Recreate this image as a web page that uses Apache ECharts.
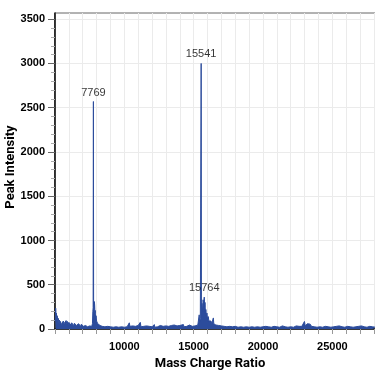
<!DOCTYPE html>
<html>
<head>
<meta charset="utf-8">
<script src="https://cdn.jsdelivr.net/npm/echarts@6/dist/echarts.min.js"></script>
<style>
  html, body { margin: 0; padding: 0; background: #fff; }
  #chart { width: 375px; height: 375px; }
</style>
</head>
<body>
<div id="chart"></div>
<script>
// [m/z, intensity] pairs
const lowMassNoise = [
  [5020, 90], [5050, 235], [5080, 140], [5100, 180], [5130, 110], [5160, 150], [5200, 95],
  [5240, 120], [5280, 70], [5320, 100], [5360, 60], [5400, 85], [5450, 50], [5500, 70],
  [5550, 45], [5600, 90], [5650, 60], [5700, 80], [5750, 55], [5800, 95], [5850, 60],
  [5900, 85], [5950, 50], [6000, 75], [6050, 55], [6100, 90], [6150, 45], [6200, 70],
  [6250, 50], [6300, 80], [6350, 40], [6400, 65], [6450, 45], [6500, 70], [6550, 40],
  [6600, 55], [6650, 35], [6700, 60], [6750, 40], [6800, 50], [6850, 30], [6900, 55],
  [6950, 35], [7000, 45], [7050, 30], [7100, 50], [7150, 35], [7200, 40], [7250, 30],
  [7300, 45], [7350, 25], [7400, 40], [7450, 30], [7500, 35], [7550, 25], [7600, 40],
  [7650, 30], [7700, 60]
];
const peak7769Cluster = [
  [7730, 200], [7750, 240], [7769, 2570], [7785, 260], [7800, 300], [7820, 230],
  [7840, 310], [7860, 270], [7880, 180], [7900, 210], [7930, 120], [7960, 150],
  [8000, 90], [8040, 110], [8080, 60], [8120, 75], [8160, 50], [8200, 60], [8250, 40]
];
const midNoise = [
  [8300, 45], [8400, 30], [8500, 50], [8600, 25], [8700, 40], [8800, 30], [8900, 45],
  [9000, 25], [9100, 35], [9200, 20], [9300, 40], [9400, 25], [9500, 30], [9600, 20],
  [9700, 35], [9800, 25], [9900, 30], [10000, 20], [10100, 30], [10200, 25], [10360, 70],
  [10400, 30], [10500, 25], [10600, 35], [10700, 20], [10800, 30], [10900, 25], [11000, 40],
  [11100, 20], [11150, 75], [11200, 25], [11300, 25], [11400, 30], [11500, 20], [11600, 35],
  [11700, 25], [11800, 30], [11900, 20], [12000, 25], [12160, 50], [12200, 20], [12300, 35],
  [12400, 25], [12500, 30], [12600, 40], [12700, 25], [12800, 30], [12900, 20], [13000, 35],
  [13100, 25], [13200, 30], [13300, 20], [13400, 40], [13500, 25], [13600, 45], [13700, 30],
  [13800, 35], [13900, 25], [14000, 40], [14100, 30], [14260, 50], [14300, 25], [14400, 40],
  [14500, 30], [14600, 35], [14700, 45], [14800, 35], [14900, 30], [15000, 45], [15100, 35],
  [15200, 50], [15300, 45]
];
const peak15541Cluster = [
  [15350, 60], [15400, 160], [15430, 80], [15480, 120], [15522, 125], [15541, 3000],
  [15560, 250], [15600, 290], [15640, 200], [15680, 330], [15720, 280], [15764, 360],
  [15790, 250], [15820, 300], [15850, 180], [15880, 220], [15920, 150], [15960, 180],
  [16000, 110], [16050, 140], [16100, 90], [16150, 110], [16200, 70], [16250, 90],
  [16300, 60], [16350, 75], [16420, 125], [16450, 60], [16500, 55], [16600, 45],
  [16700, 60], [16800, 40], [16900, 50]
];
const highNoise = [
  [17000, 35], [17100, 45], [17200, 30], [17300, 40], [17400, 25], [17500, 40], [17600, 30],
  [17700, 35], [17800, 25], [17900, 40], [18000, 30], [18100, 35], [18200, 20], [18300, 40],
  [18400, 25], [18500, 35], [18600, 20], [18700, 30], [18800, 25], [18900, 40], [19000, 20],
  [19100, 30], [19200, 25], [19300, 35], [19400, 20], [19500, 30], [19600, 25], [19700, 35],
  [19800, 20], [19900, 30], [20000, 25], [20100, 20], [20200, 30], [20300, 20], [20400, 25],
  [20500, 35], [20600, 20], [20700, 25], [20800, 30], [20900, 20], [21000, 25], [21100, 30],
  [21200, 20], [21300, 25], [21400, 35], [21500, 20], [21600, 25], [21700, 30], [21800, 20],
  [21900, 35], [22000, 25], [22100, 30], [22200, 20], [22300, 25], [22400, 35], [22500, 25],
  [22600, 30], [22700, 45], [22800, 30], [22900, 40], [22990, 85], [23050, 35], [23100, 50],
  [23200, 60], [23300, 40], [23400, 55], [23500, 30], [23600, 35], [23700, 25], [23800, 30],
  [23900, 20], [24000, 30], [24100, 25], [24200, 35], [24300, 20], [24400, 25], [24500, 30],
  [24600, 20], [24700, 25], [24800, 35], [24900, 20], [25000, 30], [25100, 25], [25200, 20],
  [25300, 30], [25400, 25], [25500, 35], [25600, 20], [25700, 25], [25800, 30], [25900, 20],
  [26000, 25], [26100, 30], [26200, 20], [26300, 25], [26400, 35], [26500, 20], [26600, 30],
  [26700, 25], [26800, 20], [26900, 30], [27000, 25], [27100, 35], [27200, 20], [27300, 25],
  [27400, 30], [27500, 20], [27600, 25], [27700, 30], [27800, 20], [27900, 25], [28000, 30],
  [28100, 20], [28150, 25]
];

// labelled peaks
const peakMz = [7769, 15541, 15764];
const peakIntensity = [2570, 3000, 360];

// tick labels
const xTickLabels = [10000, 15000, 20000, 25000];
const yTickLabels = [0, 500, 1000, 1500, 2000, 2500, 3000, 3500];

const xMin = 5000;
const xMax = 28150;
const yMax = 3570;

const spectrum = [].concat(lowMassNoise, peak7769Cluster, midNoise, peak15541Cluster, highNoise);

const xMinorTicks = [];
for (let v = 5000; v <= 28000; v += 1000) xMinorTicks.push(v);
const yMinorTicks = [];
for (let v = 100; v <= 3500; v += 100) {
  if (v % 500 !== 0) yMinorTicks.push(v);
}

const tickFont = {
  fontFamily: "'Liberation Sans', Arial, sans-serif",
  fontWeight: "bold",
  fontSize: 11,
  color: "#000"
};
const nameFont = {
  fontFamily: "Roboto, 'Liberation Sans', sans-serif",
  fontWeight: "bold",
  fontSize: 13,
  color: "#000"
};

const chart = echarts.init(document.getElementById("chart"), null, { renderer: "canvas" });

const option = {
  animation: false,
  grid: {
    left: 55,
    right: -1,
    top: 13,
    bottom: 46,
    outerBoundsMode: "none",
    containLabel: false,
    show: true,
    borderColor: "#666",
    borderWidth: 1
  },
  xAxis: [
    {
      type: "value",
      min: xMin,
      max: xMax,
      interval: 5000,
      name: "Mass Charge Ratio",
      nameLocation: "middle",
      nameGap: 28,
      nameMoveOverlap: false,
      nameTextStyle: Object.assign({ padding: [0, 11, 0, 0] }, nameFont),
      axisLine: { show: true, lineStyle: { color: "#000", width: 1.5 } },
      axisTick: { show: true, length: 5, customValues: xMinorTicks, lineStyle: { color: "#999" } },
      axisLabel: Object.assign({ customValues: xTickLabels, margin: 12, formatter: (v) => String(v) }, tickFont),
      splitLine: { show: true, lineStyle: { color: "#ebebeb" } }
    }
  ],
  yAxis: [
    {
      type: "value",
      min: 0,
      max: yMax,
      interval: 500,
      name: "Peak Intensity",
      nameLocation: "middle",
      nameGap: 38,
      nameMoveOverlap: false,
      nameTextStyle: Object.assign({ padding: [0, 0, 0, 8] }, nameFont),
      axisLine: { show: true, lineStyle: { color: "#000", width: 1.5 } },
      axisTick: { show: true, length: 7, customValues: yTickLabels, lineStyle: { color: "#666" } },
      axisLabel: Object.assign({ customValues: yTickLabels, margin: 10, formatter: (v) => String(v) }, tickFont),
      splitLine: { show: true, lineStyle: { color: "#ebebeb" } }
    },
    {
      type: "value",
      min: 0,
      max: yMax,
      position: "left",
      axisLine: { show: false },
      axisTick: { show: true, length: 4, customValues: yMinorTicks, lineStyle: { color: "#aaa" } },
      axisLabel: { show: false },
      splitLine: { show: false }
    }
  ],
  series: [
    {
      type: "line",
      data: spectrum,
      showSymbol: false,
      symbol: "none",
      lineStyle: { color: "#2c4c9c", width: 1 },
      areaStyle: { color: "#2c4c9c", opacity: 1 },
      z: 2
    },
    {
      type: "scatter",
      data: peakMz.map((mz, i) => [mz, peakIntensity[i]]),
      symbolSize: 1,
      itemStyle: { color: "rgba(0,0,0,0)" },
      label: {
        show: true,
        position: "top",
        distance: 3,
        formatter: (p) => String(p.value[0]),
        fontFamily: "'Liberation Sans', Arial, sans-serif",
        fontSize: 11,
        color: "#000"
      },
      z: 3
    }
  ]
};

chart.setOption(option);
</script>
</body>
</html>
